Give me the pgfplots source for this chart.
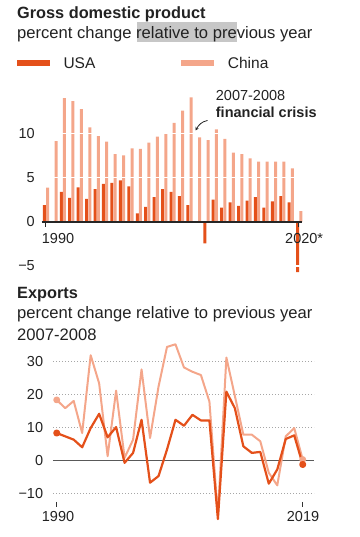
\documentclass[border=0pt]{standalone}
\usepackage{fontspec}
\setmainfont{Liberation Sans}
\usepackage{pgfplots}
\pgfplotsset{compat=1.18}
\usepackage{pgfplotstable}
\usetikzlibrary{arrows.meta}
\definecolor{usa}{HTML}{E4501A}
\definecolor{chn}{HTML}{F4A68A}
\definecolor{txt}{HTML}{222222}

% year index: 0 = 1990
\pgfplotstableread{
yr usa chn
0 1.9 3.86
1 -0.1 9.14
2 3.4 14.0
3 2.7 13.66
4 3.9 12.76
5 2.6 10.69
6 3.7 9.7
7 4.3 9.06
8 4.4 7.67
9 4.7 7.52
10 4.0 8.31
11 0.95 8.24
12 1.7 8.95
13 2.8 9.63
14 3.7 10.0
15 3.4 11.2
16 2.9 12.57
17 1.9 14.08
18 -0.1 9.56
19 -2.45 9.25
20 2.5 10.46
21 1.6 9.37
22 2.2 7.82
23 1.8 7.67
24 2.4 7.18
25 2.8 6.8
26 1.6 6.8
27 2.3 6.8
28 2.9 6.8
29 2.2 6.05
30 -5.7 1.22
}\gdp

\pgfplotstableread{
yr usa chn
0 8.3 18.3
1 7.3 15.8
2 6.3 18.0
3 4.0 8.3
4 9.8 31.8
5 14.1 23.3
6 7.0 1.3
7 10.1 21.1
8 -0.7 0.8
9 2.3 6.3
10 12.3 27.5
11 -6.7 6.8
12 -4.7 22.3
13 3.3 34.3
14 12.3 35.1
15 10.5 28.1
16 13.8 26.8
17 12.1 25.8
18 12.1 17.8
19 -17.7 -16.5
20 20.8 31.1
21 15.8 19.5
22 4.3 7.8
23 2.3 7.8
24 2.6 5.8
25 -7.0 -3.7
26 -2.7 -7.5
27 6.5 7.3
28 7.6 9.8
29 -1.2 0.3
}\exports

\newcommand\titlefont{\bfseries\fontsize{16.3bp}{19bp}\selectfont}
\newcommand\subfont{\fontsize{16.6bp}{19bp}\selectfont}
\newcommand\legfont{\fontsize{15.5bp}{18bp}\selectfont}
\newcommand\tickfont{\fontsize{14.5bp}{17bp}\selectfont}

\begin{document}
\begin{tikzpicture}
\useasboundingbox (0bp,0bp) rectangle (360bp,-537bp);
% ---------- top header ----------
\fill[black!22] (136.7bp,-22.3bp) rectangle (237.3bp,-42.3bp);
\node[anchor=base west, inner sep=0pt, text=txt, font=\titlefont] at (17bp,-18.3bp) {Gross domestic product};
\node[anchor=base west, inner sep=0pt, text=txt, font=\subfont] at (17bp,-38.5bp) {percent change relative to previous year};
\fill[usa] (17.3bp,-60bp) rectangle (50bp,-66bp);
\node[anchor=base west, inner sep=0pt, text=txt, font=\legfont] at (63.3bp,-68.3bp) {USA};
\fill[chn] (181bp,-60bp) rectangle (214bp,-66bp);
\node[anchor=base west, inner sep=0pt, text=txt, font=\legfont] at (227.7bp,-68.3bp) {China};

% ---------- GDP bars ----------
\begin{axis}[
  at={(41.7bp,-279.3bp)}, anchor=south west, scale only axis,
  width=260.6bp, height=190.1bp,
  xmin=-0.51, xmax=30.36, ymin=-6.5, ymax=15,
  axis line style={draw=none},
  xtick=\empty,
  ytick={-5,5,10}, yticklabels={−5,5,10},
  extra y ticks={0}, extra y tick labels={0},
  extra y tick style={grid style={solid, black!85, line width=1.4bp}},
  ymajorgrids, grid style={white, line width=1.6bp},
  major tick length=0pt,
  yticklabel style={anchor=east, inner sep=0pt, xshift=-6.7bp, font=\tickfont, text=txt},
  axis on top,
  clip=false,
]
\addplot[ybar, bar width=3bp, bar shift=-1.6bp, fill=usa, draw=none] table[x=yr,y=usa]{\gdp};
\addplot[ybar, bar width=3bp, bar shift=1.6bp, fill=chn, draw=none] table[x=yr,y=chn]{\gdp};
\draw[black!85, line width=0.9bp] ([xshift=-1bp]axis cs:0,0) -- ([xshift=-1bp,yshift=-5bp]axis cs:0,0);
\draw[black!85, line width=0.9bp] ([xshift=-1bp]axis cs:30,0) -- ([xshift=-1bp,yshift=-5bp]axis cs:30,0);
\end{axis}
\node[anchor=base west, inner sep=0pt, text=txt, font=\tickfont] at (41.7bp,-243.3bp) {1990};
\node[anchor=base west, inner sep=0pt, text=txt, font=\tickfont] at (285bp,-243.3bp) {2020*};
\node[anchor=base west, inner sep=0pt, text=txt, font=\tickfont] at (215.7bp,-100.7bp) {2007-2008};
\node[anchor=base west, inner sep=0pt, text=txt, font=\bfseries\tickfont] at (215.7bp,-117.7bp) {financial crisis};
\draw[-{Stealth[length=3.5bp,width=3.5bp]}, line width=0.8bp, txt] (207.5bp,-120.5bp) to[out=190, in=60] (195.5bp,-130.5bp);

% ---------- bottom header ----------
\node[anchor=base west, inner sep=0pt, text=txt, font=\titlefont] at (17bp,-298.3bp) {Exports};
\node[anchor=base west, inner sep=0pt, text=txt, font=\subfont] at (17bp,-318bp) {percent change relative to previous year};
\node[anchor=base west, inner sep=0pt, text=txt, font=\subfont] at (17bp,-340bp) {2007-2008};

% ---------- exports lines ----------
\begin{axis}[
  at={(53bp,-501.9bp)}, anchor=south west, scale only axis,
  width=261bp, height=160.6bp,
  xmin=-0.44, xmax=30.33, ymin=-12.5, ymax=36,
  axis line style={draw=none},
  xtick=\empty,
  ytick={-10,10,20,30}, yticklabels={−10,10,20,30},
  extra y ticks={0}, extra y tick labels={0},
  extra y tick style={grid style={solid, black!65, line width=1.4bp}},
  ymajorgrids, grid style={black!35, line width=0.9bp, dash pattern=on 1bp off 2bp},
  major tick length=0pt,
  yticklabel style={anchor=east, inner sep=0pt, xshift=-9.7bp, font=\tickfont, text=txt},
  clip=false,
]
\addplot[chn, line width=2bp, line join=round, mark=*, mark indices={1,30}, mark size=2.4bp, mark options={draw=none, fill=chn}] table[x=yr,y=chn]{\exports};
\addplot[usa, line width=2.2bp, line join=round, mark=*, mark indices={1,30}, mark size=2.4bp, mark options={draw=none, fill=usa}] table[x=yr,y=usa]{\exports};
\draw[black!80, line width=0.8bp] (axis cs:0,-12.5) -- ([yshift=-5bp]axis cs:0,-12.5);
\draw[black!80, line width=0.8bp] (axis cs:29,-12.5) -- ([yshift=-5bp]axis cs:29,-12.5);
\end{axis}
\node[anchor=base west, inner sep=0pt, text=txt, font=\tickfont] at (41.7bp,-521.7bp) {1990};
\node[anchor=base west, inner sep=0pt, text=txt, font=\tickfont] at (286.7bp,-521.7bp) {2019};
\end{tikzpicture}
\end{document}
